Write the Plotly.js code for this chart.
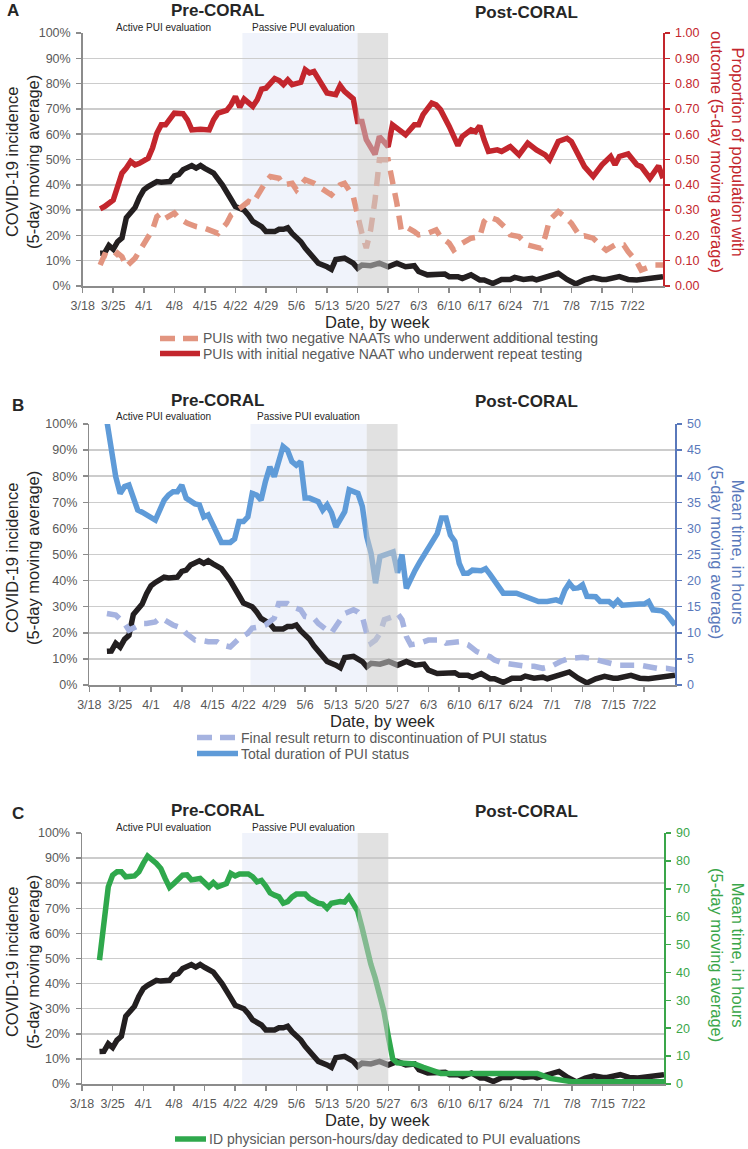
<!DOCTYPE html>
<html>
<head>
<meta charset="utf-8">
<script src="https://cdn.plot.ly/plotly-3.0.1.min.js"></script>
<style>html,body{margin:0;padding:0;background:#fff;}#chart{width:748px;height:1149px;}</style>
</head>
<body>
<div id="chart"></div>
<script>
// ---------- DATA (x values are days since 3/18/2020) ----------
const weekLabels = ["3/18","3/25","4/1","4/8","4/15","4/22","4/29","5/6","5/13","5/20","5/27","6/3","6/10","6/17","6/24","7/1","7/8","7/15","7/22"];

// COVID-19 incidence, % (5-day moving average) - shared by all panels
const incidenceDay = [4,5,6,7,8,9,10,11,12,13,14,15,17,18,19,20,21,22,23,24,25,26,27,28,30,32,33,34,35,37,38,39,41,42,44,45,46,47,48,50,51,53,54,56,57,58,60,62,63,64,66,68,70,72,74,76,77,79,81,83,84,86,87,89,91,92,94,96,98,99,101,103,104,106,108,109,111,113,115,117,119,120,123,125,127,129,131,133];
const incidencePct = [12.9,13,16,14.5,17.5,19,27,29,31,35,38,39.3,41.3,41,41.3,41.3,43.5,44,46,47,47.6,46.6,47.6,46.5,44.6,40,36.7,34.3,31.4,30,28,25.5,23.5,21.5,21.5,22.4,22.4,23,20.8,17.5,15,11,9,7.6,6.6,10.5,11,9,7,8.3,8,9,7.6,9,7.6,8,5.7,4.4,4.7,4.7,3.7,3.7,3,4.4,2.4,2.4,1,2.6,2.6,3.4,2.6,3,2.4,3.3,4.4,5,2.6,0.8,2.4,3.3,2.6,2.6,3.7,2.6,2.4,3,3.4,3.7];

// Panel A: PUIs with initial negative NAAT who underwent repeat testing (proportion)
const repeatDay = [4,5,7,8,9,10,11,12,13,15,16,17,18,19,20,21,23,24,25,27,29,30,31,33,34,35,36,37,39,40,41,42,44,45,46,47,48,50,51,52,53,55,56,58,59,60,62,63,64,65,67,68,70,71,73,74,76,77,78,80,81,82,84,85,86,87,89,90,91,92,93,95,96,98,99,100,102,104,106,107,109,111,112,114,115,117,118,119,121,122,123,125,127,128,130,131,132,133];
const repeatProp = [.305,.314,.34,.393,.446,.466,.492,.479,.485,.505,.545,.604,.637,.637,.664,.683,.681,.657,.617,.62,.617,.657,.683,.694,.716,.749,.707,.739,.71,.736,.778,.782,.82,.812,.796,.815,.796,.805,.855,.842,.848,.796,.763,.756,.792,.769,.74,.65,.65,.578,.52,.591,.551,.637,.61,.598,.637,.637,.677,.723,.716,.697,.631,.59,.555,.591,.617,.61,.633,.578,.532,.538,.532,.551,.532,.518,.565,.538,.518,.499,.571,.584,.571,.5,.472,.433,.459,.479,.512,.479,.512,.522,.479,.472,.426,.449,.475,.426];

// Panel A: PUIs with two negative NAATs who underwent additional testing (proportion)
const additionalDay = [4,5,7,8,9,10,12,14,16,17,18,19,21,22,24,26,28,30,31,33,34,36,38,39,41,42,43,45,46,48,49,51,53,54,56,57,59,60,62,63,64,65,66,67,68,70,71,72,73,74,76,77,79,81,82,84,85,87,89,91,92,93,95,97,98,100,102,103,105,106,107,109,110,112,114,115,117,119,120,122,124,125,127,128,130,131,133];
const additionalProp = [.083,.123,.11,.13,.116,.077,.11,.162,.222,.274,.288,.268,.288,.268,.248,.235,.228,.215,.208,.248,.281,.307,.334,.327,.387,.413,.433,.426,.4,.406,.38,.42,.406,.393,.373,.36,.4,.406,.354,.274,.208,.15,.222,.34,.499,.499,.42,.327,.222,.235,.215,.202,.208,.222,.195,.169,.142,.169,.189,.195,.255,.274,.261,.228,.202,.195,.162,.156,.149,.195,.261,.294,.281,.248,.195,.198,.189,.156,.142,.162,.162,.136,.096,.063,.079,.083,.083];

// Panel B: Total duration of PUI status (hours)
const durationDay = [4,5,6,7,8,9,10,11,12,13,15,16,17,18,19,20,21,22,24,25,26,27,28,29,30,32,33,34,35,36,37,38,39,40,41,42,43,44,45,46,47,48,49,50,52,53,54,55,56,57,58,59,60,61,62,63,64,65,66,68,69,70,71,72,73,74,75,76,77,78,79,80,81,82,83,84,85,86,87,89,90,91,92,93,94,97,99,101,102,104,106,107,108,109,110,111,112,113,115,116,118,119,120,121,123,125,126,127,128,130,131,133];
const durationHours = [50.5,45.7,39.9,36.7,38,38.3,36.1,33.5,33.1,32.6,31.6,33.5,35.4,36.4,37,37,38.3,35.8,34.7,34.5,32.2,32.6,30.7,28.7,27.3,27.3,28,31.3,31.3,32.2,36.7,36.4,35.4,39,41.8,39.9,42.5,45.7,45,42.8,42.1,42.8,35.8,35.8,35.1,33.5,34.5,33,30.3,31.6,33.2,37.4,37,36.7,34.2,28.4,25.2,19.5,24.6,25.2,25.5,21.5,25,18.5,20.5,22,23.5,25,26.5,28,29,32,32,28.7,27.5,23.3,21.4,21.4,22,21.9,22.3,21.2,20,18.5,17.6,17.6,16.9,16.2,16,16,16.3,16,18.2,19.5,18.5,18.6,19.2,17,16.9,16,16,15.3,16.2,15.3,15.5,15.5,15.5,16,14.4,14.2,13.7,11.5];

// Panel B: Final result return to discontinuation of PUI status (hours)
const finalDay = [4,6,8,9,10,12,13,15,16,17,19,21,22,24,25,27,29,30,32,33,34,36,37,39,40,42,43,45,46,48,49,51,52,54,55,57,58,60,61,62,63,64,65,66,67,69,70,71,72,73,75,77,80,81,84,86,88,91,92,94,97,99,101,103,105,107,109,112,114,116,118,120,122,125,127,129,131,133];
const finalHours = [13.7,13.4,11.8,10.5,10.9,11.8,11.8,12.1,12.8,12.5,11.5,10.9,9.9,8.6,8.6,8.3,8.3,7.7,7.3,8,8.9,9.9,10.9,11.2,11.5,12.8,15.6,15.6,15,14.4,13.1,12.8,11.8,10.5,10,12.5,13.7,14.4,14,13.1,9.9,8,8.6,9.9,12.5,13.1,13.7,12.5,9.3,7.7,8,8.6,8.6,8,8.3,7.7,6.4,5.4,4.8,4.2,3.8,3.6,3.6,3.2,3.6,4.5,5.1,5.3,5.1,4.7,4.2,3.8,3.8,3.8,3.5,3.2,3.2,2.9];

// Panel C: ID physician person-hours/day dedicated to PUI evaluations
const physicianDay = [4,5,6,7,8,9,10,12,13,14,15,17,18,19,20,21,22,23,24,25,27,28,29,30,31,33,34,35,36,38,39,40,41,42,43,44,45,46,47,48,49,51,52,54,55,56,57,59,60,61,62,63,64,65,66,67,68,69,70,71,72,76,78,80,82,90,97,104,107,110,112,120,127,133];
const physicianHours = [44.4,60,70.7,74.9,76.1,76.1,74.3,74.6,76.1,79.1,81.7,79.1,77.3,73.7,70.5,71.9,73.7,74.9,75,73.2,73.7,72.5,70.7,72.2,70.7,71.9,75.5,74.6,75.3,75.3,74.3,72.5,73,71,68.5,67.7,67.1,64.8,65.4,67.1,68.1,68.1,66.5,64.8,64.5,63,64.8,65.4,65.2,67.1,64.8,62,56,49,43,38,32,26,17,9,7.6,7.2,6,4.8,3.8,3.8,3.8,3.8,2,1,0.8,0.8,0.8,0.8];

// ---------- helpers ----------
const W = 748, H = 1149;
const fx = p => p / W;
const fy = p => 1 - p / H;
const START = Date.UTC(2020, 2, 18);
const toDate = d => { const t = new Date(START + d * 86400000); return t.toISOString().slice(0, 19).replace('T', ' '); };
const dates = arr => arr.map(toDate);
const labelDate = s => { const [m, d] = s.split('/').map(Number); return '2020-' + String(m).padStart(2,'0') + '-' + String(d).padStart(2,'0'); };

const FONT = 'Liberation Sans, Arial, Helvetica, sans-serif';
const C = {
  black: '#231f20', red: '#c3262d', salmon: '#e29580',
  blue: '#5f9bd8', lav: '#a6b3e0', green: '#2fa84c',
  axis: '#8c8c8c', grid: '#cccccc', tick: '#595959', title: '#262626',
  blueAxis: '#5a79bb', greenAxis: '#3aa64a'
};

const panels = [
  {xl: 82.7, xr: 663, yt: 33, yb: 286, letter: 'A', rightColor: C.red, rightRange: [0, 1], rightDtick: 0.1, rightFmt: '.2f',
   rightTitle: 'Proportion of population with<br>outcome (5-day moving average)', rightTitleY: 152,
   leftTitleY: 162, letterX: 12.5, letterY: 10, preY: 11, postY: 12, phaseY: 27, xTitleY: 322, xTitleX: 377},
  {xl: 89.3, xr: 675, yt: 424, yb: 685, letter: 'B', rightColor: C.blueAxis, rightRange: [0, 50], rightDtick: 5, rightFmt: 'd',
   rightTitle: 'Mean time, in hours<br>(5-day moving average)', rightTitleY: 552,
   leftTitleY: 558, letterX: 18, letterY: 405, preY: 400, postY: 402, phaseY: 417, xTitleY: 721, xTitleX: 382},
  {xl: 82, xr: 664, yt: 833, yb: 1084, letter: 'C', rightColor: C.greenAxis, rightRange: [0, 90], rightDtick: 10, rightFmt: 'd',
   rightTitle: 'Mean time, in hours<br>(5-day moving average)', rightTitleY: 955,
   leftTitleY: 962, letterX: 17.5, letterY: 813, preY: 810, postY: 811, phaseY: 827, xTitleY: 1120, xTitleX: 377}
];

const layout = {
  width: W, height: H, margin: {l: 0, r: 0, t: 0, b: 0},
  paper_bgcolor: '#fff', plot_bgcolor: 'rgba(0,0,0,0)',
  showlegend: false, font: {family: FONT, color: C.tick},
  shapes: [], annotations: []
};

const tickVals = weekLabels.map(labelDate);

panels.forEach((p, i) => {
  const n = i + 1;
  const xa = n === 1 ? 'xaxis' : 'xaxis' + n;
  const xs = n === 1 ? 'x' : 'x' + n;
  const yl = 2 * n - 1, yr = 2 * n;
  const ylName = yl === 1 ? 'yaxis' : 'yaxis' + yl;
  const ylRef = yl === 1 ? 'y' : 'y' + yl;
  const yrName = 'yaxis' + yr;
  layout[xa] = {
    type: 'date', domain: [fx(p.xl), fx(p.xr)], anchor: ylRef,
    range: ['2020-03-18', '2020-07-29'], tickvals: tickVals, ticktext: weekLabels,
    showgrid: false, showline: true, linecolor: C.axis, linewidth: 1.5,
    ticks: 'outside', ticklen: 5, tickwidth: 1.5, tickcolor: C.axis,
    tickfont: {size: 12.5, color: C.tick, family: FONT}, ticklabelstandoff: 2, zeroline: false, fixedrange: true
  };
  layout[ylName] = {
    domain: [fy(p.yb), fy(p.yt)], anchor: xs, range: [0, 100], dtick: 10, tick0: 0, ticksuffix: '%',
    showgrid: true, gridcolor: C.grid, gridwidth: 1.5, zeroline: false,
    showline: true, linecolor: C.axis, linewidth: 1.5,
    ticks: 'outside', ticklen: 5, tickwidth: 1.5, tickcolor: C.axis,
    tickfont: {size: 12.5, color: C.tick, family: FONT}, ticklabelstandoff: 3, fixedrange: true
  };
  layout[yrName] = {
    overlaying: ylRef, side: 'right', anchor: xs, range: p.rightRange, dtick: p.rightDtick, tick0: 0,
    tickformat: p.rightFmt, showgrid: false, zeroline: false,
    showline: true, linecolor: p.rightColor, linewidth: 1.5,
    ticks: 'outside', ticklen: 5, tickwidth: 1.5, tickcolor: p.rightColor,
    tickfont: {size: 12.5, color: p.rightColor, family: FONT}, ticklabelstandoff: 3, fixedrange: true
  };
  // passive PUI evaluation shading (below grid)
  layout.shapes.push({type: 'rect', layer: 'below', xref: xs, yref: ylRef, x0: toDate(36.6), x1: toDate(63), y0: 0, y1: 100,
    fillcolor: '#f0f3fb', line: {width: 0}});
  // transition week shading (above lines, translucent)
  layout.shapes.push({type: 'rect', layer: 'above', xref: xs, yref: ylRef, x0: toDate(63), x1: toDate(70), y0: 0, y1: 100,
    fillcolor: 'rgba(200,200,200,0.55)', line: {width: 0}});

  const A = layout.annotations;
  A.push({text: '<b>' + p.letter + '</b>', x: fx(p.letterX), y: fy(p.letterY), xref: 'paper', yref: 'paper', showarrow: false,
    xanchor: 'center', yanchor: 'middle', font: {size: 17, color: C.title, family: FONT}});
  A.push({text: '<b>Pre-CORAL</b>', x: fx(217.5), y: fy(p.preY), xref: 'paper', yref: 'paper', showarrow: false,
    xanchor: 'center', yanchor: 'middle', font: {size: 17, color: C.title, family: FONT}});
  A.push({text: '<b>Post-CORAL</b>', x: fx(526.5), y: fy(p.postY), xref: 'paper', yref: 'paper', showarrow: false,
    xanchor: 'center', yanchor: 'middle', font: {size: 17, color: C.title, family: FONT}});
  A.push({text: 'Active PUI evaluation', x: fx(163.5), y: fy(p.phaseY), xref: 'paper', yref: 'paper', showarrow: false,
    xanchor: 'center', yanchor: 'middle', font: {size: 10, color: C.title, family: FONT}});
  A.push({text: 'Passive PUI evaluation', x: fx(i === 1 ? 308.5 : 303), y: fy(p.phaseY), xref: 'paper', yref: 'paper', showarrow: false,
    xanchor: 'center', yanchor: 'middle', font: {size: 10, color: C.title, family: FONT}});
  A.push({text: 'COVID-19 incidence<br>(5-day moving average)', textangle: -90, x: fx(22), y: fy(p.leftTitleY), xref: 'paper', yref: 'paper',
    showarrow: false, xanchor: 'center', yanchor: 'middle', font: {size: 16.5, color: C.title, family: FONT}});
  A.push({text: p.rightTitle, textangle: 90, x: fx(728), y: fy(p.rightTitleY), xref: 'paper', yref: 'paper',
    showarrow: false, xanchor: 'center', yanchor: 'middle', font: {size: 16.5, color: p.rightColor, family: FONT}});
  A.push({text: 'Date, by week', x: fx(p.xTitleX), y: fy(p.xTitleY), xref: 'paper', yref: 'paper', showarrow: false,
    xanchor: 'center', yanchor: 'middle', borderpad: 0, font: {size: 16.5, color: C.title, family: FONT}});
});

// ---------- traces ----------
const LW = 5.5;
const traces = [
  {x: dates(additionalDay), y: additionalProp, xaxis: 'x', yaxis: 'y2', mode: 'lines', name: 'PUIs with two negative NAATs who underwent additional testing',
   line: {color: C.salmon, width: LW, dash: '14px,9px'}},
  {x: dates(repeatDay), y: repeatProp, xaxis: 'x', yaxis: 'y2', mode: 'lines', name: 'PUIs with initial negative NAAT who underwent repeat testing',
   line: {color: C.red, width: LW}},
  {x: dates(incidenceDay), y: incidencePct, xaxis: 'x', yaxis: 'y', mode: 'lines', name: 'COVID-19 incidence', line: {color: C.black, width: LW}},

  {x: dates(finalDay), y: finalHours, xaxis: 'x2', yaxis: 'y4', mode: 'lines', name: 'Final result return to discontinuation of PUI status',
   line: {color: C.lav, width: LW, dash: '14px,9px'}},
  {x: dates(durationDay), y: durationHours, xaxis: 'x2', yaxis: 'y4', mode: 'lines', name: 'Total duration of PUI status',
   line: {color: C.blue, width: LW}},
  {x: dates(incidenceDay), y: incidencePct, xaxis: 'x2', yaxis: 'y3', mode: 'lines', name: 'COVID-19 incidence', line: {color: C.black, width: LW}},

  {x: dates(incidenceDay), y: incidencePct, xaxis: 'x3', yaxis: 'y5', mode: 'lines', name: 'COVID-19 incidence', line: {color: C.black, width: LW}},
  {x: dates(physicianDay), y: physicianHours, xaxis: 'x3', yaxis: 'y6', mode: 'lines', name: 'ID physician person-hours/day dedicated to PUI evaluations',
   line: {color: C.green, width: LW}}
];

// ---------- legends (drawn as keys + text) ----------
const legendItems = [
  {y: 338.5, x0: 160, x1: 200, color: C.salmon, dash: '15px,8px', text: 'PUIs with two negative NAATs who underwent additional testing'},
  {y: 353.5, x0: 160, x1: 200, color: C.red, dash: 'solid', text: 'PUIs with initial negative NAAT who underwent repeat testing'},
  {y: 737.5, x0: 197, x1: 238, color: C.lav, dash: '15px,8px', text: 'Final result return to discontinuation of PUI status'},
  {y: 753.5, x0: 197, x1: 238, color: C.blue, dash: 'solid', text: 'Total duration of PUI status'},
  {y: 1139, x0: 175, x1: 206, color: C.green, dash: 'solid', text: 'ID physician person-hours/day dedicated to PUI evaluations'}
];
legendItems.forEach(it => {
  layout.shapes.push({type: 'line', xref: 'paper', yref: 'paper', x0: fx(it.x0), x1: fx(it.x1), y0: fy(it.y), y1: fy(it.y),
    line: {color: it.color, width: 5.5, dash: it.dash}});
  layout.annotations.push({text: it.text, x: fx(it.x1 + 1.5), y: fy(it.y), xref: 'paper', yref: 'paper', showarrow: false,
    xanchor: 'left', yanchor: 'middle', borderpad: 0, font: {size: 14, color: C.tick, family: FONT}});
});

Plotly.newPlot('chart', traces, layout, {displayModeBar: false, staticPlot: true});
</script>
</body>
</html>
